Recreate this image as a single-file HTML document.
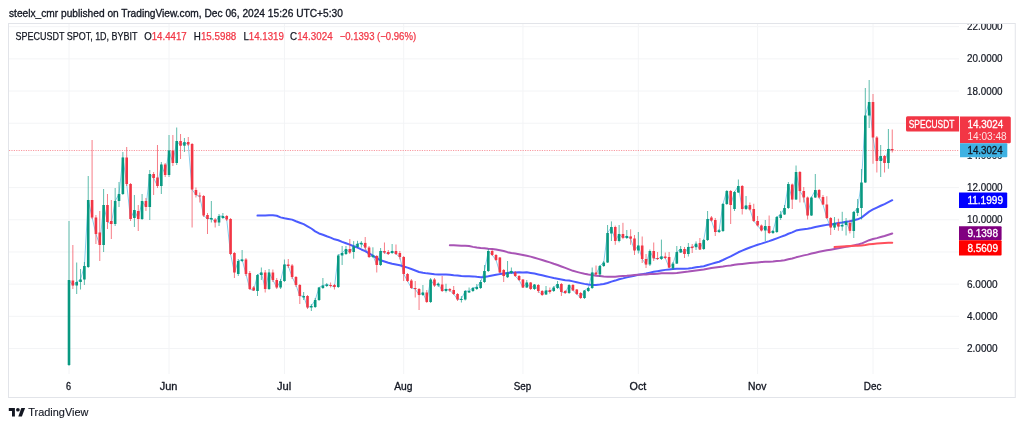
<!DOCTYPE html>
<html><head><meta charset="utf-8"><style>
html,body{margin:0;padding:0;background:#fff;width:1024px;height:428px;overflow:hidden;position:relative}
svg{filter:blur(0.3px)}
text{paint-order:stroke;stroke-width:0.3px;stroke-linejoin:round}
text.d{stroke:#131722}
text.w{stroke:#fff}
</style></head><body>
<svg width="1024" height="428" viewBox="0 0 1024 428" style="position:absolute;left:0;top:0">
<text x="9" y="16.7" font-family="Liberation Sans, sans-serif" font-size="10.9" fill="#131722" class="d" style="stroke-width:0.32px" textLength="333.8" lengthAdjust="spacingAndGlyphs">steelx_cmr published on TradingView.com, Dec 06, 2024 15:26 UTC+5:30</text>
<defs><clipPath id="pane"><rect x="9" y="24" width="950" height="350"/></clipPath><clipPath id="axis"><rect x="959" y="24" width="56" height="350"/></clipPath></defs>
<line x1="9" x2="959" y1="348.52" y2="348.52" stroke="#F3F4F6" stroke-width="1"/>
<line x1="9" x2="959" y1="316.34" y2="316.34" stroke="#F3F4F6" stroke-width="1"/>
<line x1="9" x2="959" y1="284.15" y2="284.15" stroke="#F3F4F6" stroke-width="1"/>
<line x1="9" x2="959" y1="251.97" y2="251.97" stroke="#F3F4F6" stroke-width="1"/>
<line x1="9" x2="959" y1="219.78" y2="219.78" stroke="#F3F4F6" stroke-width="1"/>
<line x1="9" x2="959" y1="187.60" y2="187.60" stroke="#F3F4F6" stroke-width="1"/>
<line x1="9" x2="959" y1="155.41" y2="155.41" stroke="#F3F4F6" stroke-width="1"/>
<line x1="9" x2="959" y1="123.23" y2="123.23" stroke="#F3F4F6" stroke-width="1"/>
<line x1="9" x2="959" y1="91.04" y2="91.04" stroke="#F3F4F6" stroke-width="1"/>
<line x1="9" x2="959" y1="58.86" y2="58.86" stroke="#F3F4F6" stroke-width="1"/>
<line x1="9" x2="959" y1="26.67" y2="26.67" stroke="#F3F4F6" stroke-width="1"/>
<line x1="69.00" x2="69.00" y1="24" y2="374" stroke="#F3F4F6" stroke-width="1"/>
<line x1="169.02" x2="169.02" y1="24" y2="374" stroke="#F3F4F6" stroke-width="1"/>
<line x1="284.43" x2="284.43" y1="24" y2="374" stroke="#F3F4F6" stroke-width="1"/>
<line x1="403.68" x2="403.68" y1="24" y2="374" stroke="#F3F4F6" stroke-width="1"/>
<line x1="522.93" x2="522.93" y1="24" y2="374" stroke="#F3F4F6" stroke-width="1"/>
<line x1="638.34" x2="638.34" y1="24" y2="374" stroke="#F3F4F6" stroke-width="1"/>
<line x1="757.60" x2="757.60" y1="24" y2="374" stroke="#F3F4F6" stroke-width="1"/>
<line x1="873.00" x2="873.00" y1="24" y2="374" stroke="#F3F4F6" stroke-width="1"/>
<rect x="8.5" y="23.5" width="1006.75" height="374" fill="none" stroke="#E2E4E9" stroke-width="1"/>
<line x1="9" x2="959" y1="150.5" y2="150.5" stroke="#F23645" stroke-width="1" stroke-dasharray="1.2,1.2" opacity="0.5"/>
<g clip-path="url(#pane)">
<polyline points="69.00,280.00 72.85,285.50 76.69,282.00 80.54,279.50 84.39,266.00 88.23,200.00 92.08,217.50 95.93,234.00 99.78,245.00 103.62,205.00 107.47,222.00 111.32,224.00 115.16,201.00 119.01,194.00 122.86,157.50 126.70,184.00 130.55,219.00 134.40,210.00 138.24,219.00 142.09,201.00 145.94,207.00 149.78,174.00 153.63,178.00 157.48,186.00 161.33,164.50 165.17,175.00 169.02,150.50 172.87,163.00 176.71,141.00 180.56,145.70 184.41,142.20 188.25,144.50 192.10,189.50 195.95,195.00 199.79,196.50 203.64,215.50 207.49,219.00 211.34,218.00 215.18,222.50 219.03,216.00 222.88,216.00 226.72,219.50 230.57,254.00 234.42,272.50 238.26,261.00 242.11,259.50 245.96,274.00 249.80,289.00 253.65,290.50 257.50,275.00 261.35,272.50 265.19,289.00 269.04,272.50 272.89,280.00 276.73,287.50 280.58,281.00 284.43,264.50 288.27,266.00 292.12,277.00 295.97,285.00 299.81,296.00 303.66,296.00 307.51,307.50 311.35,306.00 315.20,300.00 319.05,287.50 322.90,285.50 326.74,284.50 330.59,285.50 334.44,287.00 338.28,255.50 342.13,253.00 345.98,249.00 349.82,252.50 353.67,246.40 357.52,243.80 361.36,242.90 365.21,247.60 369.06,257.00 372.91,255.50 376.75,265.00 380.60,251.00 384.45,252.50 388.29,254.00 392.14,251.00 395.99,254.00 399.83,257.00 403.68,274.00 407.53,281.00 411.37,288.00 415.22,289.00 419.07,295.00 422.91,292.50 426.76,302.00 430.61,279.50 434.46,285.50 438.30,283.70 442.15,291.00 446.00,289.00 449.84,290.50 453.69,294.00 457.54,299.50 461.38,299.00 465.23,291.00 469.08,291.00 472.92,288.00 476.77,287.00 480.62,282.00 484.47,271.00 488.31,251.00 492.16,255.00 496.01,260.00 499.85,272.50 503.70,276.00 507.55,272.50 511.39,271.00 515.24,276.00 519.09,280.00 522.93,287.50 526.78,282.50 530.63,289.00 534.47,284.50 538.32,291.00 542.17,295.00 546.02,290.50 549.86,292.00 553.71,287.50 557.56,284.00 561.40,292.00 565.25,293.00 569.10,285.00 572.94,290.50 576.79,294.00 580.64,298.00 584.48,290.50 588.33,288.00 592.18,272.50 596.03,274.50 599.87,266.00 603.72,262.50 607.57,233.00 611.41,227.00 615.26,241.00 619.11,234.00 622.95,237.80 626.80,236.00 630.65,238.70 634.49,250.50 638.34,245.50 642.19,259.00 646.04,264.50 649.88,251.00 653.73,258.30 657.58,259.00 661.42,256.50 665.27,258.00 669.12,267.60 672.96,263.60 676.81,252.00 680.66,249.00 684.50,254.00 688.35,247.00 692.20,248.00 696.04,243.70 699.89,249.50 703.74,240.00 707.59,219.00 711.43,220.50 715.28,232.00 719.13,230.30 722.97,204.00 726.82,191.00 730.67,205.00 734.51,192.00 738.36,186.00 742.21,209.00 746.05,205.50 749.90,209.50 753.75,221.00 757.60,225.50 761.44,230.50 765.29,226.00 769.14,233.00 772.98,231.00 776.83,217.00 780.68,214.50 784.52,208.00 788.37,184.00 792.22,199.50 796.06,172.00 799.91,191.00 803.76,197.50 807.60,215.50 811.45,197.50 815.30,190.00 819.15,197.50 822.99,204.50 826.84,218.00 830.69,227.50 834.53,222.90 838.38,226.50 842.23,225.00 846.07,221.80 849.92,230.80 853.77,212.00 857.61,208.10 861.46,182.50 865.31,115.50 869.16,102.00 873.00,137.50 876.85,161.00 880.70,156.00 884.54,163.00 888.39,149.00 892.24,150.30" fill="none" stroke="#86CDEB" stroke-width="1"/>
<polyline points="257.50,215.61 261.35,215.46 265.19,215.53 269.04,215.34 272.89,215.35 276.73,215.78 280.58,217.40 284.43,218.34 288.27,218.98 292.12,219.62 295.97,221.22 299.81,222.70 303.66,224.14 307.51,226.27 311.35,228.51 315.20,231.36 319.05,233.43 322.90,234.76 326.74,236.25 330.59,237.58 334.44,239.30 338.28,240.27 342.13,241.85 345.98,243.27 349.82,244.60 353.67,246.24 357.52,247.61 361.36,249.46 365.21,251.15 369.06,253.47 372.91,255.67 376.75,258.12 380.60,260.25 384.45,261.51 388.29,262.69 392.14,263.78 395.99,264.55 399.83,265.31 403.68,266.43 407.53,267.60 411.37,269.04 415.22,270.50 419.07,272.01 422.91,272.78 426.76,273.37 430.61,273.74 434.46,274.26 438.30,274.46 442.15,274.50 446.00,274.47 449.84,274.78 453.69,275.21 457.54,275.42 461.38,275.95 465.23,276.17 469.08,276.24 472.92,276.38 476.77,276.83 480.62,277.15 484.47,277.03 488.31,276.35 492.16,275.53 496.01,274.81 499.85,274.11 503.70,273.51 507.55,272.96 511.39,272.63 515.24,272.44 519.09,272.35 522.93,272.39 526.78,272.30 530.63,272.97 534.47,273.60 538.32,274.44 542.17,275.29 546.02,276.17 549.86,277.13 553.71,278.03 557.56,278.75 561.40,279.45 565.25,280.20 569.10,280.60 572.94,281.39 576.79,282.22 580.64,283.10 584.48,283.89 588.33,284.57 592.18,284.88 596.03,284.89 599.87,284.59 603.72,284.08 607.57,282.96 611.41,281.60 615.26,280.57 619.11,279.21 622.95,278.38 626.80,277.39 630.65,276.49 634.49,275.68 638.34,274.81 642.19,274.18 646.04,273.59 649.88,272.62 653.73,271.81 657.58,271.17 661.42,270.48 665.27,269.88 669.12,269.49 672.96,269.12 676.81,268.74 680.66,268.70 684.50,268.68 688.35,268.42 692.20,267.93 696.04,267.28 699.89,266.82 703.74,266.20 707.59,265.06 711.43,263.87 715.28,262.76 719.13,261.72 722.97,260.02 726.82,258.15 730.67,256.43 734.51,254.37 738.36,252.28 742.21,250.62 746.05,248.98 749.90,247.49 753.75,246.07 757.60,244.72 761.44,243.63 765.29,242.34 769.14,241.12 772.98,239.78 776.83,238.31 780.68,236.84 784.52,235.55 788.37,233.74 792.22,232.41 796.06,230.60 799.91,229.76 803.76,229.17 807.60,228.66 811.45,227.93 815.30,226.97 819.15,226.20 822.99,225.52 826.84,224.87 830.69,224.51 834.53,223.79 838.38,223.03 842.23,222.51 846.07,221.78 849.92,221.21 853.77,220.32 857.61,219.33 861.46,217.62 865.31,214.66 869.16,211.66 873.00,209.43 876.85,207.57 880.70,205.75 884.54,204.05 888.39,202.16 892.24,200.17" fill="none" stroke="#4B5BFF" stroke-width="2" stroke-linejoin="round" stroke-linecap="round"/>
<polyline points="449.84,245.19 453.69,245.33 457.54,245.47 461.38,245.64 465.23,245.76 469.08,246.01 472.92,246.89 476.77,247.58 480.62,248.06 484.47,248.32 488.31,248.78 492.16,249.11 496.01,249.47 499.85,250.19 503.70,251.01 507.55,252.16 511.39,253.03 515.24,253.60 519.09,254.30 522.93,254.98 526.78,255.80 530.63,256.62 534.47,257.72 538.32,258.85 542.17,259.94 546.02,261.20 549.86,262.37 553.71,263.74 557.56,264.95 561.40,266.46 565.25,267.94 569.10,269.36 572.94,270.82 576.79,271.87 580.64,272.90 584.48,273.84 588.33,274.56 592.18,275.10 596.03,275.66 599.87,276.10 603.72,276.56 607.57,276.73 611.41,276.81 615.26,276.68 619.11,276.29 622.95,276.06 626.80,275.83 630.65,275.47 634.49,275.09 638.34,274.64 642.19,274.48 646.04,274.40 649.88,274.02 653.73,273.88 657.58,273.67 661.42,273.36 665.27,273.13 669.12,273.16 672.96,273.13 676.81,272.88 680.66,272.52 684.50,272.10 688.35,271.61 692.20,271.02 696.04,270.40 699.89,269.89 703.74,269.42 707.59,268.75 711.43,268.11 715.28,267.58 719.13,267.01 722.97,266.49 726.82,265.87 730.67,265.43 734.51,264.83 738.36,264.23 742.21,263.88 746.05,263.50 749.90,263.12 753.75,262.76 757.60,262.46 761.44,262.12 765.29,261.87 769.14,261.67 772.98,261.44 776.83,261.10 780.68,260.71 784.52,260.22 788.37,259.32 792.22,258.50 796.06,257.34 799.91,256.36 803.76,255.39 807.60,254.62 811.45,253.57 815.30,252.68 819.15,251.80 822.99,251.00 826.84,250.28 830.69,249.66 834.53,248.98 838.38,248.31 842.23,247.56 846.07,246.79 849.92,246.19 853.77,245.40 857.61,244.60 861.46,243.56 865.31,241.89 869.16,240.20 873.00,239.07 876.85,238.13 880.70,237.09 884.54,235.99 888.39,234.72 892.24,233.50" fill="none" stroke="#A854B5" stroke-width="2" stroke-linejoin="round" stroke-linecap="round"/>
<polyline points="834.53,247.09 838.38,246.82 842.23,246.52 846.07,246.22 849.92,245.97 853.77,245.70 857.61,245.74 861.46,245.57 865.31,244.98 869.16,244.26 873.00,243.92 876.85,243.62 880.70,243.28 884.54,243.09 888.39,242.86 892.24,242.83" fill="none" stroke="#FF4F5B" stroke-width="2" stroke-linejoin="round" stroke-linecap="round"/>
<line x1="69.00" x2="69.00" y1="221.00" y2="366.00" stroke="#089981" stroke-width="1" opacity="0.65"/>
<rect x="67.70" y="280.00" width="2.6" height="85.00" fill="#089981"/>
<line x1="72.85" x2="72.85" y1="245.00" y2="289.00" stroke="#F23645" stroke-width="1" opacity="0.65"/>
<rect x="71.55" y="280.50" width="2.6" height="5.00" fill="#F23645"/>
<line x1="76.69" x2="76.69" y1="262.50" y2="294.00" stroke="#089981" stroke-width="1" opacity="0.65"/>
<rect x="75.39" y="282.00" width="2.6" height="3.50" fill="#089981"/>
<line x1="80.54" x2="80.54" y1="269.00" y2="289.50" stroke="#089981" stroke-width="1" opacity="0.65"/>
<rect x="79.24" y="279.50" width="2.6" height="2.50" fill="#089981"/>
<line x1="84.39" x2="84.39" y1="262.00" y2="285.00" stroke="#089981" stroke-width="1" opacity="0.65"/>
<rect x="83.09" y="266.00" width="2.6" height="13.50" fill="#089981"/>
<line x1="88.23" x2="88.23" y1="176.00" y2="268.00" stroke="#089981" stroke-width="1" opacity="0.65"/>
<rect x="86.93" y="200.00" width="2.6" height="67.00" fill="#089981"/>
<line x1="92.08" x2="92.08" y1="140.00" y2="219.00" stroke="#F23645" stroke-width="1" opacity="0.65"/>
<rect x="90.78" y="200.00" width="2.6" height="17.50" fill="#F23645"/>
<line x1="95.93" x2="95.93" y1="215.00" y2="244.00" stroke="#F23645" stroke-width="1" opacity="0.65"/>
<rect x="94.63" y="217.50" width="2.6" height="16.50" fill="#F23645"/>
<line x1="99.78" x2="99.78" y1="211.00" y2="261.00" stroke="#F23645" stroke-width="1" opacity="0.65"/>
<rect x="98.48" y="232.50" width="2.6" height="12.50" fill="#F23645"/>
<line x1="103.62" x2="103.62" y1="189.00" y2="252.00" stroke="#089981" stroke-width="1" opacity="0.65"/>
<rect x="102.32" y="205.00" width="2.6" height="40.00" fill="#089981"/>
<line x1="107.47" x2="107.47" y1="194.00" y2="229.00" stroke="#F23645" stroke-width="1" opacity="0.65"/>
<rect x="106.17" y="205.00" width="2.6" height="17.00" fill="#F23645"/>
<line x1="111.32" x2="111.32" y1="200.00" y2="239.00" stroke="#F23645" stroke-width="1" opacity="0.65"/>
<rect x="110.02" y="221.00" width="2.6" height="3.00" fill="#F23645"/>
<line x1="115.16" x2="115.16" y1="188.00" y2="226.00" stroke="#089981" stroke-width="1" opacity="0.65"/>
<rect x="113.86" y="201.00" width="2.6" height="23.00" fill="#089981"/>
<line x1="119.01" x2="119.01" y1="182.00" y2="207.00" stroke="#089981" stroke-width="1" opacity="0.65"/>
<rect x="117.71" y="194.00" width="2.6" height="7.00" fill="#089981"/>
<line x1="122.86" x2="122.86" y1="152.00" y2="195.00" stroke="#089981" stroke-width="1" opacity="0.65"/>
<rect x="121.56" y="157.50" width="2.6" height="36.50" fill="#089981"/>
<line x1="126.70" x2="126.70" y1="147.00" y2="186.00" stroke="#F23645" stroke-width="1" opacity="0.65"/>
<rect x="125.40" y="157.50" width="2.6" height="26.50" fill="#F23645"/>
<line x1="130.55" x2="130.55" y1="183.00" y2="221.00" stroke="#F23645" stroke-width="1" opacity="0.65"/>
<rect x="129.25" y="184.00" width="2.6" height="35.00" fill="#F23645"/>
<line x1="134.40" x2="134.40" y1="195.00" y2="227.00" stroke="#089981" stroke-width="1" opacity="0.65"/>
<rect x="133.10" y="210.00" width="2.6" height="8.00" fill="#089981"/>
<line x1="138.24" x2="138.24" y1="205.00" y2="231.00" stroke="#F23645" stroke-width="1" opacity="0.65"/>
<rect x="136.94" y="211.00" width="2.6" height="8.00" fill="#F23645"/>
<line x1="142.09" x2="142.09" y1="194.00" y2="220.00" stroke="#089981" stroke-width="1" opacity="0.65"/>
<rect x="140.79" y="201.00" width="2.6" height="18.00" fill="#089981"/>
<line x1="145.94" x2="145.94" y1="198.00" y2="211.00" stroke="#F23645" stroke-width="1" opacity="0.65"/>
<rect x="144.64" y="201.00" width="2.6" height="6.00" fill="#F23645"/>
<line x1="149.78" x2="149.78" y1="170.00" y2="220.00" stroke="#089981" stroke-width="1" opacity="0.65"/>
<rect x="148.48" y="174.00" width="2.6" height="33.00" fill="#089981"/>
<line x1="153.63" x2="153.63" y1="172.00" y2="195.00" stroke="#F23645" stroke-width="1" opacity="0.65"/>
<rect x="152.33" y="174.00" width="2.6" height="4.00" fill="#F23645"/>
<line x1="157.48" x2="157.48" y1="145.00" y2="188.00" stroke="#F23645" stroke-width="1" opacity="0.65"/>
<rect x="156.18" y="177.50" width="2.6" height="8.50" fill="#F23645"/>
<line x1="161.33" x2="161.33" y1="162.00" y2="194.00" stroke="#089981" stroke-width="1" opacity="0.65"/>
<rect x="160.03" y="164.50" width="2.6" height="21.50" fill="#089981"/>
<line x1="165.17" x2="165.17" y1="163.00" y2="177.00" stroke="#F23645" stroke-width="1" opacity="0.65"/>
<rect x="163.87" y="164.50" width="2.6" height="10.50" fill="#F23645"/>
<line x1="169.02" x2="169.02" y1="135.00" y2="177.00" stroke="#089981" stroke-width="1" opacity="0.65"/>
<rect x="167.72" y="150.50" width="2.6" height="24.50" fill="#089981"/>
<line x1="172.87" x2="172.87" y1="135.00" y2="166.00" stroke="#F23645" stroke-width="1" opacity="0.65"/>
<rect x="171.57" y="150.50" width="2.6" height="12.50" fill="#F23645"/>
<line x1="176.71" x2="176.71" y1="127.50" y2="165.00" stroke="#089981" stroke-width="1" opacity="0.65"/>
<rect x="175.41" y="141.00" width="2.6" height="22.00" fill="#089981"/>
<line x1="180.56" x2="180.56" y1="134.00" y2="159.00" stroke="#F23645" stroke-width="1" opacity="0.65"/>
<rect x="179.26" y="141.00" width="2.6" height="4.70" fill="#F23645"/>
<line x1="184.41" x2="184.41" y1="138.00" y2="152.00" stroke="#089981" stroke-width="1" opacity="0.65"/>
<rect x="183.11" y="142.20" width="2.6" height="3.50" fill="#089981"/>
<line x1="188.25" x2="188.25" y1="137.00" y2="146.00" stroke="#F23645" stroke-width="1" opacity="0.65"/>
<rect x="186.95" y="142.00" width="2.6" height="2.50" fill="#F23645"/>
<line x1="192.10" x2="192.10" y1="143.00" y2="227.50" stroke="#F23645" stroke-width="1" opacity="0.65"/>
<rect x="190.80" y="144.00" width="2.6" height="45.50" fill="#F23645"/>
<line x1="195.95" x2="195.95" y1="187.50" y2="197.50" stroke="#F23645" stroke-width="1" opacity="0.65"/>
<rect x="194.65" y="190.00" width="2.6" height="5.00" fill="#F23645"/>
<line x1="199.79" x2="199.79" y1="192.50" y2="202.50" stroke="#F23645" stroke-width="1" opacity="0.65"/>
<rect x="198.49" y="195.50" width="2.6" height="1.00" fill="#F23645"/>
<line x1="203.64" x2="203.64" y1="195.00" y2="217.00" stroke="#F23645" stroke-width="1" opacity="0.65"/>
<rect x="202.34" y="196.00" width="2.6" height="19.50" fill="#F23645"/>
<line x1="207.49" x2="207.49" y1="213.00" y2="234.00" stroke="#F23645" stroke-width="1" opacity="0.65"/>
<rect x="206.19" y="215.00" width="2.6" height="4.00" fill="#F23645"/>
<line x1="211.34" x2="211.34" y1="201.00" y2="222.50" stroke="#089981" stroke-width="1" opacity="0.65"/>
<rect x="210.04" y="218.00" width="2.6" height="1.50" fill="#089981"/>
<line x1="215.18" x2="215.18" y1="218.00" y2="227.50" stroke="#F23645" stroke-width="1" opacity="0.65"/>
<rect x="213.88" y="219.50" width="2.6" height="3.00" fill="#F23645"/>
<line x1="219.03" x2="219.03" y1="214.00" y2="226.00" stroke="#089981" stroke-width="1" opacity="0.65"/>
<rect x="217.73" y="216.00" width="2.6" height="6.50" fill="#089981"/>
<line x1="222.88" x2="222.88" y1="213.00" y2="219.00" stroke="#089981" stroke-width="1" opacity="0.65"/>
<rect x="221.58" y="216.00" width="2.6" height="2.00" fill="#089981"/>
<line x1="226.72" x2="226.72" y1="215.00" y2="221.00" stroke="#F23645" stroke-width="1" opacity="0.65"/>
<rect x="225.42" y="216.00" width="2.6" height="3.50" fill="#F23645"/>
<line x1="230.57" x2="230.57" y1="218.00" y2="255.00" stroke="#F23645" stroke-width="1" opacity="0.65"/>
<rect x="229.27" y="219.00" width="2.6" height="35.00" fill="#F23645"/>
<line x1="234.42" x2="234.42" y1="252.00" y2="278.00" stroke="#F23645" stroke-width="1" opacity="0.65"/>
<rect x="233.12" y="253.00" width="2.6" height="19.50" fill="#F23645"/>
<line x1="238.26" x2="238.26" y1="259.00" y2="276.00" stroke="#089981" stroke-width="1" opacity="0.65"/>
<rect x="236.96" y="261.00" width="2.6" height="13.00" fill="#089981"/>
<line x1="242.11" x2="242.11" y1="250.00" y2="262.00" stroke="#089981" stroke-width="1" opacity="0.65"/>
<rect x="240.81" y="259.50" width="2.6" height="1.50" fill="#089981"/>
<line x1="245.96" x2="245.96" y1="258.00" y2="276.00" stroke="#F23645" stroke-width="1" opacity="0.65"/>
<rect x="244.66" y="259.50" width="2.6" height="14.50" fill="#F23645"/>
<line x1="249.80" x2="249.80" y1="271.00" y2="290.00" stroke="#F23645" stroke-width="1" opacity="0.65"/>
<rect x="248.50" y="273.00" width="2.6" height="16.00" fill="#F23645"/>
<line x1="253.65" x2="253.65" y1="286.00" y2="291.00" stroke="#F23645" stroke-width="1" opacity="0.65"/>
<rect x="252.35" y="287.50" width="2.6" height="3.00" fill="#F23645"/>
<line x1="257.50" x2="257.50" y1="274.00" y2="296.00" stroke="#089981" stroke-width="1" opacity="0.65"/>
<rect x="256.20" y="275.00" width="2.6" height="16.00" fill="#089981"/>
<line x1="261.35" x2="261.35" y1="267.50" y2="280.00" stroke="#089981" stroke-width="1" opacity="0.65"/>
<rect x="260.05" y="272.50" width="2.6" height="2.50" fill="#089981"/>
<line x1="265.19" x2="265.19" y1="270.00" y2="292.50" stroke="#F23645" stroke-width="1" opacity="0.65"/>
<rect x="263.89" y="272.50" width="2.6" height="16.50" fill="#F23645"/>
<line x1="269.04" x2="269.04" y1="269.00" y2="290.00" stroke="#089981" stroke-width="1" opacity="0.65"/>
<rect x="267.74" y="272.50" width="2.6" height="16.50" fill="#089981"/>
<line x1="272.89" x2="272.89" y1="269.50" y2="282.00" stroke="#F23645" stroke-width="1" opacity="0.65"/>
<rect x="271.59" y="272.50" width="2.6" height="7.50" fill="#F23645"/>
<line x1="276.73" x2="276.73" y1="278.00" y2="289.00" stroke="#F23645" stroke-width="1" opacity="0.65"/>
<rect x="275.43" y="280.00" width="2.6" height="7.50" fill="#F23645"/>
<line x1="280.58" x2="280.58" y1="279.00" y2="289.00" stroke="#089981" stroke-width="1" opacity="0.65"/>
<rect x="279.28" y="281.00" width="2.6" height="6.50" fill="#089981"/>
<line x1="284.43" x2="284.43" y1="259.50" y2="282.00" stroke="#089981" stroke-width="1" opacity="0.65"/>
<rect x="283.13" y="264.50" width="2.6" height="16.50" fill="#089981"/>
<line x1="288.27" x2="288.27" y1="259.00" y2="268.00" stroke="#F23645" stroke-width="1" opacity="0.65"/>
<rect x="286.97" y="264.50" width="2.6" height="1.50" fill="#F23645"/>
<line x1="292.12" x2="292.12" y1="264.00" y2="279.00" stroke="#F23645" stroke-width="1" opacity="0.65"/>
<rect x="290.82" y="265.50" width="2.6" height="11.50" fill="#F23645"/>
<line x1="295.97" x2="295.97" y1="276.00" y2="287.00" stroke="#F23645" stroke-width="1" opacity="0.65"/>
<rect x="294.67" y="277.00" width="2.6" height="8.00" fill="#F23645"/>
<line x1="299.81" x2="299.81" y1="284.00" y2="304.00" stroke="#F23645" stroke-width="1" opacity="0.65"/>
<rect x="298.51" y="285.00" width="2.6" height="11.00" fill="#F23645"/>
<line x1="303.66" x2="303.66" y1="292.00" y2="300.00" stroke="#089981" stroke-width="1" opacity="0.65"/>
<rect x="302.36" y="296.00" width="2.6" height="1.50" fill="#089981"/>
<line x1="307.51" x2="307.51" y1="295.00" y2="309.00" stroke="#F23645" stroke-width="1" opacity="0.65"/>
<rect x="306.21" y="296.00" width="2.6" height="11.50" fill="#F23645"/>
<line x1="311.35" x2="311.35" y1="304.00" y2="311.00" stroke="#089981" stroke-width="1" opacity="0.65"/>
<rect x="310.05" y="306.00" width="2.6" height="1.50" fill="#089981"/>
<line x1="315.20" x2="315.20" y1="298.00" y2="308.00" stroke="#089981" stroke-width="1" opacity="0.65"/>
<rect x="313.90" y="300.00" width="2.6" height="7.00" fill="#089981"/>
<line x1="319.05" x2="319.05" y1="287.00" y2="301.00" stroke="#089981" stroke-width="1" opacity="0.65"/>
<rect x="317.75" y="287.50" width="2.6" height="12.50" fill="#089981"/>
<line x1="322.90" x2="322.90" y1="278.00" y2="289.00" stroke="#089981" stroke-width="1" opacity="0.65"/>
<rect x="321.60" y="285.50" width="2.6" height="2.50" fill="#089981"/>
<line x1="326.74" x2="326.74" y1="283.00" y2="287.00" stroke="#089981" stroke-width="1" opacity="0.65"/>
<rect x="325.44" y="284.50" width="2.6" height="1.50" fill="#089981"/>
<line x1="330.59" x2="330.59" y1="282.50" y2="287.50" stroke="#F23645" stroke-width="1" opacity="0.65"/>
<rect x="329.29" y="285.00" width="2.6" height="1.00" fill="#F23645"/>
<line x1="334.44" x2="334.44" y1="284.00" y2="289.50" stroke="#F23645" stroke-width="1" opacity="0.65"/>
<rect x="333.14" y="285.00" width="2.6" height="2.00" fill="#F23645"/>
<line x1="338.28" x2="338.28" y1="254.00" y2="288.00" stroke="#089981" stroke-width="1" opacity="0.65"/>
<rect x="336.98" y="255.50" width="2.6" height="31.50" fill="#089981"/>
<line x1="342.13" x2="342.13" y1="246.00" y2="265.00" stroke="#089981" stroke-width="1" opacity="0.65"/>
<rect x="340.83" y="253.00" width="2.6" height="2.50" fill="#089981"/>
<line x1="345.98" x2="345.98" y1="246.00" y2="255.00" stroke="#089981" stroke-width="1" opacity="0.65"/>
<rect x="344.68" y="249.00" width="2.6" height="5.00" fill="#089981"/>
<line x1="349.82" x2="349.82" y1="239.00" y2="254.00" stroke="#F23645" stroke-width="1" opacity="0.65"/>
<rect x="348.52" y="249.00" width="2.6" height="3.50" fill="#F23645"/>
<line x1="353.67" x2="353.67" y1="241.10" y2="258.70" stroke="#089981" stroke-width="1" opacity="0.65"/>
<rect x="352.37" y="246.40" width="2.6" height="5.60" fill="#089981"/>
<line x1="357.52" x2="357.52" y1="240.80" y2="248.00" stroke="#089981" stroke-width="1" opacity="0.65"/>
<rect x="356.22" y="243.80" width="2.6" height="3.20" fill="#089981"/>
<line x1="361.36" x2="361.36" y1="241.10" y2="247.60" stroke="#089981" stroke-width="1" opacity="0.65"/>
<rect x="360.06" y="242.90" width="2.6" height="1.50" fill="#089981"/>
<line x1="365.21" x2="365.21" y1="237.00" y2="250.50" stroke="#F23645" stroke-width="1" opacity="0.65"/>
<rect x="363.91" y="242.90" width="2.6" height="4.70" fill="#F23645"/>
<line x1="369.06" x2="369.06" y1="246.00" y2="258.00" stroke="#F23645" stroke-width="1" opacity="0.65"/>
<rect x="367.76" y="247.50" width="2.6" height="9.50" fill="#F23645"/>
<line x1="372.91" x2="372.91" y1="247.30" y2="258.00" stroke="#089981" stroke-width="1" opacity="0.65"/>
<rect x="371.61" y="255.50" width="2.6" height="1.50" fill="#089981"/>
<line x1="376.75" x2="376.75" y1="255.00" y2="272.50" stroke="#F23645" stroke-width="1" opacity="0.65"/>
<rect x="375.45" y="256.00" width="2.6" height="9.00" fill="#F23645"/>
<line x1="380.60" x2="380.60" y1="248.00" y2="266.00" stroke="#089981" stroke-width="1" opacity="0.65"/>
<rect x="379.30" y="251.00" width="2.6" height="14.00" fill="#089981"/>
<line x1="384.45" x2="384.45" y1="242.50" y2="254.00" stroke="#F23645" stroke-width="1" opacity="0.65"/>
<rect x="383.15" y="251.00" width="2.6" height="1.50" fill="#F23645"/>
<line x1="388.29" x2="388.29" y1="250.00" y2="255.00" stroke="#F23645" stroke-width="1" opacity="0.65"/>
<rect x="386.99" y="252.00" width="2.6" height="2.00" fill="#F23645"/>
<line x1="392.14" x2="392.14" y1="244.00" y2="254.00" stroke="#089981" stroke-width="1" opacity="0.65"/>
<rect x="390.84" y="251.00" width="2.6" height="2.00" fill="#089981"/>
<line x1="395.99" x2="395.99" y1="244.50" y2="255.00" stroke="#F23645" stroke-width="1" opacity="0.65"/>
<rect x="394.69" y="251.00" width="2.6" height="3.00" fill="#F23645"/>
<line x1="399.83" x2="399.83" y1="251.00" y2="259.50" stroke="#F23645" stroke-width="1" opacity="0.65"/>
<rect x="398.53" y="253.00" width="2.6" height="4.00" fill="#F23645"/>
<line x1="403.68" x2="403.68" y1="256.00" y2="281.00" stroke="#F23645" stroke-width="1" opacity="0.65"/>
<rect x="402.38" y="257.00" width="2.6" height="17.00" fill="#F23645"/>
<line x1="407.53" x2="407.53" y1="273.00" y2="282.00" stroke="#F23645" stroke-width="1" opacity="0.65"/>
<rect x="406.23" y="274.00" width="2.6" height="7.00" fill="#F23645"/>
<line x1="411.37" x2="411.37" y1="279.00" y2="289.00" stroke="#F23645" stroke-width="1" opacity="0.65"/>
<rect x="410.07" y="280.50" width="2.6" height="7.50" fill="#F23645"/>
<line x1="415.22" x2="415.22" y1="281.00" y2="297.50" stroke="#F23645" stroke-width="1" opacity="0.65"/>
<rect x="413.92" y="288.00" width="2.6" height="1.00" fill="#F23645"/>
<line x1="419.07" x2="419.07" y1="288.00" y2="310.00" stroke="#F23645" stroke-width="1" opacity="0.65"/>
<rect x="417.77" y="289.00" width="2.6" height="6.00" fill="#F23645"/>
<line x1="422.91" x2="422.91" y1="285.00" y2="296.00" stroke="#089981" stroke-width="1" opacity="0.65"/>
<rect x="421.61" y="292.50" width="2.6" height="2.50" fill="#089981"/>
<line x1="426.76" x2="426.76" y1="290.00" y2="303.00" stroke="#F23645" stroke-width="1" opacity="0.65"/>
<rect x="425.46" y="292.50" width="2.6" height="9.50" fill="#F23645"/>
<line x1="430.61" x2="430.61" y1="278.00" y2="303.00" stroke="#089981" stroke-width="1" opacity="0.65"/>
<rect x="429.31" y="279.50" width="2.6" height="22.50" fill="#089981"/>
<line x1="434.46" x2="434.46" y1="278.00" y2="287.00" stroke="#F23645" stroke-width="1" opacity="0.65"/>
<rect x="433.16" y="279.50" width="2.6" height="6.00" fill="#F23645"/>
<line x1="438.30" x2="438.30" y1="282.50" y2="287.00" stroke="#089981" stroke-width="1" opacity="0.65"/>
<rect x="437.00" y="283.70" width="2.6" height="1.70" fill="#089981"/>
<line x1="442.15" x2="442.15" y1="276.00" y2="292.00" stroke="#F23645" stroke-width="1" opacity="0.65"/>
<rect x="440.85" y="284.50" width="2.6" height="6.50" fill="#F23645"/>
<line x1="446.00" x2="446.00" y1="283.75" y2="292.50" stroke="#089981" stroke-width="1" opacity="0.65"/>
<rect x="444.70" y="289.00" width="2.6" height="2.00" fill="#089981"/>
<line x1="449.84" x2="449.84" y1="288.00" y2="292.00" stroke="#F23645" stroke-width="1" opacity="0.65"/>
<rect x="448.54" y="289.00" width="2.6" height="1.50" fill="#F23645"/>
<line x1="453.69" x2="453.69" y1="286.00" y2="295.00" stroke="#F23645" stroke-width="1" opacity="0.65"/>
<rect x="452.39" y="290.00" width="2.6" height="4.00" fill="#F23645"/>
<line x1="457.54" x2="457.54" y1="293.00" y2="301.00" stroke="#F23645" stroke-width="1" opacity="0.65"/>
<rect x="456.24" y="294.00" width="2.6" height="5.50" fill="#F23645"/>
<line x1="461.38" x2="461.38" y1="296.00" y2="302.50" stroke="#089981" stroke-width="1" opacity="0.65"/>
<rect x="460.08" y="299.00" width="2.6" height="1.00" fill="#089981"/>
<line x1="465.23" x2="465.23" y1="290.00" y2="300.50" stroke="#089981" stroke-width="1" opacity="0.65"/>
<rect x="463.93" y="291.00" width="2.6" height="8.50" fill="#089981"/>
<line x1="469.08" x2="469.08" y1="287.50" y2="293.00" stroke="#089981" stroke-width="1" opacity="0.65"/>
<rect x="467.78" y="291.00" width="2.6" height="1.50" fill="#089981"/>
<line x1="472.92" x2="472.92" y1="287.00" y2="292.00" stroke="#089981" stroke-width="1" opacity="0.65"/>
<rect x="471.62" y="288.00" width="2.6" height="3.00" fill="#089981"/>
<line x1="476.77" x2="476.77" y1="284.00" y2="290.00" stroke="#089981" stroke-width="1" opacity="0.65"/>
<rect x="475.47" y="287.00" width="2.6" height="2.00" fill="#089981"/>
<line x1="480.62" x2="480.62" y1="280.00" y2="289.00" stroke="#089981" stroke-width="1" opacity="0.65"/>
<rect x="479.32" y="282.00" width="2.6" height="6.00" fill="#089981"/>
<line x1="484.47" x2="484.47" y1="265.00" y2="283.00" stroke="#089981" stroke-width="1" opacity="0.65"/>
<rect x="483.17" y="271.00" width="2.6" height="11.00" fill="#089981"/>
<line x1="488.31" x2="488.31" y1="249.00" y2="272.00" stroke="#089981" stroke-width="1" opacity="0.65"/>
<rect x="487.01" y="251.00" width="2.6" height="20.00" fill="#089981"/>
<line x1="492.16" x2="492.16" y1="249.50" y2="256.00" stroke="#F23645" stroke-width="1" opacity="0.65"/>
<rect x="490.86" y="251.00" width="2.6" height="4.00" fill="#F23645"/>
<line x1="496.01" x2="496.01" y1="254.00" y2="261.00" stroke="#F23645" stroke-width="1" opacity="0.65"/>
<rect x="494.71" y="255.00" width="2.6" height="5.00" fill="#F23645"/>
<line x1="499.85" x2="499.85" y1="257.00" y2="273.00" stroke="#F23645" stroke-width="1" opacity="0.65"/>
<rect x="498.55" y="257.50" width="2.6" height="15.00" fill="#F23645"/>
<line x1="503.70" x2="503.70" y1="269.00" y2="282.00" stroke="#F23645" stroke-width="1" opacity="0.65"/>
<rect x="502.40" y="270.00" width="2.6" height="6.00" fill="#F23645"/>
<line x1="507.55" x2="507.55" y1="261.00" y2="278.00" stroke="#089981" stroke-width="1" opacity="0.65"/>
<rect x="506.25" y="272.50" width="2.6" height="4.70" fill="#089981"/>
<line x1="511.39" x2="511.39" y1="267.50" y2="274.00" stroke="#089981" stroke-width="1" opacity="0.65"/>
<rect x="510.09" y="271.00" width="2.6" height="2.00" fill="#089981"/>
<line x1="515.24" x2="515.24" y1="271.00" y2="277.00" stroke="#F23645" stroke-width="1" opacity="0.65"/>
<rect x="513.94" y="272.50" width="2.6" height="3.50" fill="#F23645"/>
<line x1="519.09" x2="519.09" y1="275.00" y2="281.00" stroke="#F23645" stroke-width="1" opacity="0.65"/>
<rect x="517.79" y="276.00" width="2.6" height="4.00" fill="#F23645"/>
<line x1="522.93" x2="522.93" y1="279.00" y2="288.00" stroke="#F23645" stroke-width="1" opacity="0.65"/>
<rect x="521.63" y="279.50" width="2.6" height="8.00" fill="#F23645"/>
<line x1="526.78" x2="526.78" y1="280.00" y2="288.00" stroke="#089981" stroke-width="1" opacity="0.65"/>
<rect x="525.48" y="282.50" width="2.6" height="5.00" fill="#089981"/>
<line x1="530.63" x2="530.63" y1="282.00" y2="290.00" stroke="#F23645" stroke-width="1" opacity="0.65"/>
<rect x="529.33" y="282.50" width="2.6" height="6.50" fill="#F23645"/>
<line x1="534.47" x2="534.47" y1="284.00" y2="290.00" stroke="#089981" stroke-width="1" opacity="0.65"/>
<rect x="533.17" y="284.50" width="2.6" height="4.50" fill="#089981"/>
<line x1="538.32" x2="538.32" y1="284.00" y2="293.00" stroke="#F23645" stroke-width="1" opacity="0.65"/>
<rect x="537.02" y="285.00" width="2.6" height="6.00" fill="#F23645"/>
<line x1="542.17" x2="542.17" y1="290.00" y2="296.00" stroke="#F23645" stroke-width="1" opacity="0.65"/>
<rect x="540.87" y="291.00" width="2.6" height="4.00" fill="#F23645"/>
<line x1="546.02" x2="546.02" y1="286.00" y2="295.00" stroke="#089981" stroke-width="1" opacity="0.65"/>
<rect x="544.72" y="290.50" width="2.6" height="4.00" fill="#089981"/>
<line x1="549.86" x2="549.86" y1="287.50" y2="293.75" stroke="#F23645" stroke-width="1" opacity="0.65"/>
<rect x="548.56" y="290.00" width="2.6" height="2.00" fill="#F23645"/>
<line x1="553.71" x2="553.71" y1="286.00" y2="292.00" stroke="#089981" stroke-width="1" opacity="0.65"/>
<rect x="552.41" y="287.50" width="2.6" height="3.50" fill="#089981"/>
<line x1="557.56" x2="557.56" y1="281.00" y2="289.00" stroke="#089981" stroke-width="1" opacity="0.65"/>
<rect x="556.26" y="284.00" width="2.6" height="4.00" fill="#089981"/>
<line x1="561.40" x2="561.40" y1="283.00" y2="296.00" stroke="#F23645" stroke-width="1" opacity="0.65"/>
<rect x="560.10" y="284.00" width="2.6" height="8.00" fill="#F23645"/>
<line x1="565.25" x2="565.25" y1="290.00" y2="294.00" stroke="#F23645" stroke-width="1" opacity="0.65"/>
<rect x="563.95" y="291.00" width="2.6" height="2.00" fill="#F23645"/>
<line x1="569.10" x2="569.10" y1="284.00" y2="294.00" stroke="#089981" stroke-width="1" opacity="0.65"/>
<rect x="567.80" y="285.00" width="2.6" height="8.00" fill="#089981"/>
<line x1="572.94" x2="572.94" y1="284.00" y2="291.00" stroke="#F23645" stroke-width="1" opacity="0.65"/>
<rect x="571.64" y="285.00" width="2.6" height="5.50" fill="#F23645"/>
<line x1="576.79" x2="576.79" y1="289.00" y2="295.00" stroke="#F23645" stroke-width="1" opacity="0.65"/>
<rect x="575.49" y="289.50" width="2.6" height="4.50" fill="#F23645"/>
<line x1="580.64" x2="580.64" y1="292.00" y2="299.00" stroke="#F23645" stroke-width="1" opacity="0.65"/>
<rect x="579.34" y="293.00" width="2.6" height="5.00" fill="#F23645"/>
<line x1="584.48" x2="584.48" y1="290.00" y2="299.00" stroke="#089981" stroke-width="1" opacity="0.65"/>
<rect x="583.18" y="290.50" width="2.6" height="7.50" fill="#089981"/>
<line x1="588.33" x2="588.33" y1="287.00" y2="292.00" stroke="#089981" stroke-width="1" opacity="0.65"/>
<rect x="587.03" y="288.00" width="2.6" height="3.00" fill="#089981"/>
<line x1="592.18" x2="592.18" y1="267.50" y2="289.00" stroke="#089981" stroke-width="1" opacity="0.65"/>
<rect x="590.88" y="272.50" width="2.6" height="15.50" fill="#089981"/>
<line x1="596.03" x2="596.03" y1="265.50" y2="275.00" stroke="#F23645" stroke-width="1" opacity="0.65"/>
<rect x="594.73" y="272.50" width="2.6" height="2.00" fill="#F23645"/>
<line x1="599.87" x2="599.87" y1="265.00" y2="277.00" stroke="#089981" stroke-width="1" opacity="0.65"/>
<rect x="598.57" y="266.00" width="2.6" height="8.50" fill="#089981"/>
<line x1="603.72" x2="603.72" y1="261.00" y2="267.00" stroke="#089981" stroke-width="1" opacity="0.65"/>
<rect x="602.42" y="262.50" width="2.6" height="3.50" fill="#089981"/>
<line x1="607.57" x2="607.57" y1="225.00" y2="263.00" stroke="#089981" stroke-width="1" opacity="0.65"/>
<rect x="606.27" y="233.00" width="2.6" height="29.50" fill="#089981"/>
<line x1="611.41" x2="611.41" y1="221.40" y2="241.00" stroke="#089981" stroke-width="1" opacity="0.65"/>
<rect x="610.11" y="227.00" width="2.6" height="6.50" fill="#089981"/>
<line x1="615.26" x2="615.26" y1="225.60" y2="244.80" stroke="#F23645" stroke-width="1" opacity="0.65"/>
<rect x="613.96" y="227.00" width="2.6" height="14.00" fill="#F23645"/>
<line x1="619.11" x2="619.11" y1="225.00" y2="242.40" stroke="#089981" stroke-width="1" opacity="0.65"/>
<rect x="617.81" y="234.00" width="2.6" height="7.00" fill="#089981"/>
<line x1="622.95" x2="622.95" y1="222.80" y2="239.20" stroke="#F23645" stroke-width="1" opacity="0.65"/>
<rect x="621.65" y="234.00" width="2.6" height="3.80" fill="#F23645"/>
<line x1="626.80" x2="626.80" y1="230.00" y2="239.00" stroke="#089981" stroke-width="1" opacity="0.65"/>
<rect x="625.50" y="236.00" width="2.6" height="2.00" fill="#089981"/>
<line x1="630.65" x2="630.65" y1="229.30" y2="244.80" stroke="#F23645" stroke-width="1" opacity="0.65"/>
<rect x="629.35" y="236.40" width="2.6" height="2.30" fill="#F23645"/>
<line x1="634.49" x2="634.49" y1="235.00" y2="255.00" stroke="#F23645" stroke-width="1" opacity="0.65"/>
<rect x="633.19" y="238.50" width="2.6" height="12.00" fill="#F23645"/>
<line x1="638.34" x2="638.34" y1="232.00" y2="253.50" stroke="#089981" stroke-width="1" opacity="0.65"/>
<rect x="637.04" y="245.50" width="2.6" height="5.00" fill="#089981"/>
<line x1="642.19" x2="642.19" y1="236.50" y2="263.00" stroke="#F23645" stroke-width="1" opacity="0.65"/>
<rect x="640.89" y="245.50" width="2.6" height="13.50" fill="#F23645"/>
<line x1="646.04" x2="646.04" y1="254.00" y2="268.00" stroke="#F23645" stroke-width="1" opacity="0.65"/>
<rect x="644.74" y="259.00" width="2.6" height="5.50" fill="#F23645"/>
<line x1="649.88" x2="649.88" y1="249.50" y2="266.00" stroke="#089981" stroke-width="1" opacity="0.65"/>
<rect x="648.58" y="251.00" width="2.6" height="13.50" fill="#089981"/>
<line x1="653.73" x2="653.73" y1="242.50" y2="261.00" stroke="#F23645" stroke-width="1" opacity="0.65"/>
<rect x="652.43" y="251.00" width="2.6" height="7.30" fill="#F23645"/>
<line x1="657.58" x2="657.58" y1="252.00" y2="260.00" stroke="#F23645" stroke-width="1" opacity="0.65"/>
<rect x="656.28" y="258.00" width="2.6" height="1.00" fill="#F23645"/>
<line x1="661.42" x2="661.42" y1="239.60" y2="260.00" stroke="#089981" stroke-width="1" opacity="0.65"/>
<rect x="660.12" y="256.50" width="2.6" height="2.50" fill="#089981"/>
<line x1="665.27" x2="665.27" y1="252.50" y2="259.00" stroke="#F23645" stroke-width="1" opacity="0.65"/>
<rect x="663.97" y="256.50" width="2.6" height="1.50" fill="#F23645"/>
<line x1="669.12" x2="669.12" y1="252.00" y2="268.00" stroke="#F23645" stroke-width="1" opacity="0.65"/>
<rect x="667.82" y="257.00" width="2.6" height="10.60" fill="#F23645"/>
<line x1="672.96" x2="672.96" y1="262.00" y2="270.00" stroke="#089981" stroke-width="1" opacity="0.65"/>
<rect x="671.66" y="263.60" width="2.6" height="4.60" fill="#089981"/>
<line x1="676.81" x2="676.81" y1="246.00" y2="264.00" stroke="#089981" stroke-width="1" opacity="0.65"/>
<rect x="675.51" y="252.00" width="2.6" height="11.60" fill="#089981"/>
<line x1="680.66" x2="680.66" y1="246.00" y2="253.00" stroke="#089981" stroke-width="1" opacity="0.65"/>
<rect x="679.36" y="249.00" width="2.6" height="3.50" fill="#089981"/>
<line x1="684.50" x2="684.50" y1="247.00" y2="258.00" stroke="#F23645" stroke-width="1" opacity="0.65"/>
<rect x="683.20" y="249.00" width="2.6" height="5.00" fill="#F23645"/>
<line x1="688.35" x2="688.35" y1="243.00" y2="256.50" stroke="#089981" stroke-width="1" opacity="0.65"/>
<rect x="687.05" y="247.00" width="2.6" height="7.00" fill="#089981"/>
<line x1="692.20" x2="692.20" y1="244.00" y2="253.00" stroke="#F23645" stroke-width="1" opacity="0.65"/>
<rect x="690.90" y="246.60" width="2.6" height="1.40" fill="#F23645"/>
<line x1="696.04" x2="696.04" y1="241.40" y2="250.00" stroke="#089981" stroke-width="1" opacity="0.65"/>
<rect x="694.74" y="243.70" width="2.6" height="3.50" fill="#089981"/>
<line x1="699.89" x2="699.89" y1="238.00" y2="250.00" stroke="#F23645" stroke-width="1" opacity="0.65"/>
<rect x="698.59" y="243.00" width="2.6" height="6.50" fill="#F23645"/>
<line x1="703.74" x2="703.74" y1="239.00" y2="250.00" stroke="#089981" stroke-width="1" opacity="0.65"/>
<rect x="702.44" y="240.00" width="2.6" height="9.00" fill="#089981"/>
<line x1="707.59" x2="707.59" y1="211.00" y2="241.00" stroke="#089981" stroke-width="1" opacity="0.65"/>
<rect x="706.29" y="219.00" width="2.6" height="21.00" fill="#089981"/>
<line x1="711.43" x2="711.43" y1="216.00" y2="221.50" stroke="#F23645" stroke-width="1" opacity="0.65"/>
<rect x="710.13" y="217.50" width="2.6" height="3.00" fill="#F23645"/>
<line x1="715.28" x2="715.28" y1="218.00" y2="236.00" stroke="#F23645" stroke-width="1" opacity="0.65"/>
<rect x="713.98" y="220.00" width="2.6" height="12.00" fill="#F23645"/>
<line x1="719.13" x2="719.13" y1="229.00" y2="233.00" stroke="#089981" stroke-width="1" opacity="0.65"/>
<rect x="717.83" y="230.30" width="2.6" height="1.70" fill="#089981"/>
<line x1="722.97" x2="722.97" y1="203.00" y2="232.00" stroke="#089981" stroke-width="1" opacity="0.65"/>
<rect x="721.67" y="204.00" width="2.6" height="27.00" fill="#089981"/>
<line x1="726.82" x2="726.82" y1="190.00" y2="205.00" stroke="#089981" stroke-width="1" opacity="0.65"/>
<rect x="725.52" y="191.00" width="2.6" height="13.00" fill="#089981"/>
<line x1="730.67" x2="730.67" y1="190.00" y2="224.00" stroke="#F23645" stroke-width="1" opacity="0.65"/>
<rect x="729.37" y="191.00" width="2.6" height="14.00" fill="#F23645"/>
<line x1="734.51" x2="734.51" y1="191.00" y2="211.00" stroke="#089981" stroke-width="1" opacity="0.65"/>
<rect x="733.21" y="192.00" width="2.6" height="17.00" fill="#089981"/>
<line x1="738.36" x2="738.36" y1="179.50" y2="193.00" stroke="#089981" stroke-width="1" opacity="0.65"/>
<rect x="737.06" y="186.00" width="2.6" height="6.50" fill="#089981"/>
<line x1="742.21" x2="742.21" y1="185.00" y2="214.50" stroke="#F23645" stroke-width="1" opacity="0.65"/>
<rect x="740.91" y="186.00" width="2.6" height="23.00" fill="#F23645"/>
<line x1="746.05" x2="746.05" y1="196.00" y2="210.00" stroke="#089981" stroke-width="1" opacity="0.65"/>
<rect x="744.75" y="205.50" width="2.6" height="3.50" fill="#089981"/>
<line x1="749.90" x2="749.90" y1="202.50" y2="210.50" stroke="#F23645" stroke-width="1" opacity="0.65"/>
<rect x="748.60" y="205.00" width="2.6" height="4.50" fill="#F23645"/>
<line x1="753.75" x2="753.75" y1="203.75" y2="222.00" stroke="#F23645" stroke-width="1" opacity="0.65"/>
<rect x="752.45" y="209.00" width="2.6" height="12.00" fill="#F23645"/>
<line x1="757.60" x2="757.60" y1="216.00" y2="226.50" stroke="#F23645" stroke-width="1" opacity="0.65"/>
<rect x="756.30" y="221.00" width="2.6" height="4.50" fill="#F23645"/>
<line x1="761.44" x2="761.44" y1="224.50" y2="231.50" stroke="#F23645" stroke-width="1" opacity="0.65"/>
<rect x="760.14" y="225.50" width="2.6" height="5.00" fill="#F23645"/>
<line x1="765.29" x2="765.29" y1="220.00" y2="241.00" stroke="#089981" stroke-width="1" opacity="0.65"/>
<rect x="763.99" y="226.00" width="2.6" height="4.50" fill="#089981"/>
<line x1="769.14" x2="769.14" y1="215.50" y2="234.00" stroke="#F23645" stroke-width="1" opacity="0.65"/>
<rect x="767.84" y="226.00" width="2.6" height="7.00" fill="#F23645"/>
<line x1="772.98" x2="772.98" y1="230.00" y2="234.00" stroke="#089981" stroke-width="1" opacity="0.65"/>
<rect x="771.68" y="231.00" width="2.6" height="2.00" fill="#089981"/>
<line x1="776.83" x2="776.83" y1="216.00" y2="233.00" stroke="#089981" stroke-width="1" opacity="0.65"/>
<rect x="775.53" y="217.00" width="2.6" height="15.00" fill="#089981"/>
<line x1="780.68" x2="780.68" y1="211.00" y2="220.00" stroke="#089981" stroke-width="1" opacity="0.65"/>
<rect x="779.38" y="214.50" width="2.6" height="3.50" fill="#089981"/>
<line x1="784.52" x2="784.52" y1="205.00" y2="215.00" stroke="#089981" stroke-width="1" opacity="0.65"/>
<rect x="783.22" y="208.00" width="2.6" height="6.50" fill="#089981"/>
<line x1="788.37" x2="788.37" y1="182.00" y2="209.00" stroke="#089981" stroke-width="1" opacity="0.65"/>
<rect x="787.07" y="184.00" width="2.6" height="24.00" fill="#089981"/>
<line x1="792.22" x2="792.22" y1="183.50" y2="209.00" stroke="#F23645" stroke-width="1" opacity="0.65"/>
<rect x="790.92" y="184.50" width="2.6" height="15.00" fill="#F23645"/>
<line x1="796.06" x2="796.06" y1="165.50" y2="200.00" stroke="#089981" stroke-width="1" opacity="0.65"/>
<rect x="794.76" y="172.00" width="2.6" height="27.50" fill="#089981"/>
<line x1="799.91" x2="799.91" y1="171.00" y2="202.50" stroke="#F23645" stroke-width="1" opacity="0.65"/>
<rect x="798.61" y="172.00" width="2.6" height="19.00" fill="#F23645"/>
<line x1="803.76" x2="803.76" y1="187.00" y2="202.50" stroke="#F23645" stroke-width="1" opacity="0.65"/>
<rect x="802.46" y="191.00" width="2.6" height="6.50" fill="#F23645"/>
<line x1="807.60" x2="807.60" y1="196.50" y2="219.50" stroke="#F23645" stroke-width="1" opacity="0.65"/>
<rect x="806.30" y="197.50" width="2.6" height="18.00" fill="#F23645"/>
<line x1="811.45" x2="811.45" y1="196.50" y2="216.00" stroke="#089981" stroke-width="1" opacity="0.65"/>
<rect x="810.15" y="197.50" width="2.6" height="18.00" fill="#089981"/>
<line x1="815.30" x2="815.30" y1="174.00" y2="198.00" stroke="#089981" stroke-width="1" opacity="0.65"/>
<rect x="814.00" y="190.00" width="2.6" height="7.50" fill="#089981"/>
<line x1="819.15" x2="819.15" y1="189.00" y2="198.50" stroke="#F23645" stroke-width="1" opacity="0.65"/>
<rect x="817.85" y="190.00" width="2.6" height="7.50" fill="#F23645"/>
<line x1="822.99" x2="822.99" y1="195.00" y2="205.00" stroke="#F23645" stroke-width="1" opacity="0.65"/>
<rect x="821.69" y="197.00" width="2.6" height="7.50" fill="#F23645"/>
<line x1="826.84" x2="826.84" y1="196.25" y2="219.00" stroke="#F23645" stroke-width="1" opacity="0.65"/>
<rect x="825.54" y="204.50" width="2.6" height="13.50" fill="#F23645"/>
<line x1="830.69" x2="830.69" y1="217.00" y2="235.00" stroke="#F23645" stroke-width="1" opacity="0.65"/>
<rect x="829.39" y="218.00" width="2.6" height="9.50" fill="#F23645"/>
<line x1="834.53" x2="834.53" y1="217.00" y2="230.00" stroke="#089981" stroke-width="1" opacity="0.65"/>
<rect x="833.23" y="222.90" width="2.6" height="4.70" fill="#089981"/>
<line x1="838.38" x2="838.38" y1="218.70" y2="230.80" stroke="#F23645" stroke-width="1" opacity="0.65"/>
<rect x="837.08" y="222.90" width="2.6" height="3.60" fill="#F23645"/>
<line x1="842.23" x2="842.23" y1="211.80" y2="230.80" stroke="#089981" stroke-width="1" opacity="0.65"/>
<rect x="840.93" y="225.00" width="2.6" height="1.50" fill="#089981"/>
<line x1="846.07" x2="846.07" y1="218.00" y2="235.50" stroke="#089981" stroke-width="1" opacity="0.65"/>
<rect x="844.77" y="221.80" width="2.6" height="3.20" fill="#089981"/>
<line x1="849.92" x2="849.92" y1="219.70" y2="233.40" stroke="#F23645" stroke-width="1" opacity="0.65"/>
<rect x="848.62" y="222.90" width="2.6" height="7.90" fill="#F23645"/>
<line x1="853.77" x2="853.77" y1="211.00" y2="238.00" stroke="#089981" stroke-width="1" opacity="0.65"/>
<rect x="852.47" y="212.00" width="2.6" height="19.00" fill="#089981"/>
<line x1="857.61" x2="857.61" y1="199.00" y2="216.00" stroke="#089981" stroke-width="1" opacity="0.65"/>
<rect x="856.31" y="208.10" width="2.6" height="4.80" fill="#089981"/>
<line x1="861.46" x2="861.46" y1="169.00" y2="219.50" stroke="#089981" stroke-width="1" opacity="0.65"/>
<rect x="860.16" y="182.50" width="2.6" height="25.50" fill="#089981"/>
<line x1="865.31" x2="865.31" y1="88.00" y2="183.00" stroke="#089981" stroke-width="1" opacity="0.65"/>
<rect x="864.01" y="115.50" width="2.6" height="67.00" fill="#089981"/>
<line x1="869.16" x2="869.16" y1="80.00" y2="128.00" stroke="#089981" stroke-width="1" opacity="0.65"/>
<rect x="867.86" y="102.00" width="2.6" height="13.50" fill="#089981"/>
<line x1="873.00" x2="873.00" y1="94.00" y2="163.75" stroke="#F23645" stroke-width="1" opacity="0.65"/>
<rect x="871.70" y="102.00" width="2.6" height="35.50" fill="#F23645"/>
<line x1="876.85" x2="876.85" y1="136.00" y2="172.50" stroke="#F23645" stroke-width="1" opacity="0.65"/>
<rect x="875.55" y="137.50" width="2.6" height="23.50" fill="#F23645"/>
<line x1="880.70" x2="880.70" y1="145.00" y2="177.00" stroke="#089981" stroke-width="1" opacity="0.65"/>
<rect x="879.40" y="156.00" width="2.6" height="5.00" fill="#089981"/>
<line x1="884.54" x2="884.54" y1="155.00" y2="172.50" stroke="#F23645" stroke-width="1" opacity="0.65"/>
<rect x="883.24" y="156.00" width="2.6" height="7.00" fill="#F23645"/>
<line x1="888.39" x2="888.39" y1="129.00" y2="168.75" stroke="#089981" stroke-width="1" opacity="0.65"/>
<rect x="887.09" y="149.00" width="2.6" height="14.00" fill="#089981"/>
<line x1="892.24" x2="892.24" y1="129.50" y2="152.50" stroke="#F23645" stroke-width="1" opacity="0.65"/>
<rect x="890.94" y="149.00" width="2.6" height="1.30" fill="#F23645"/>
</g>
<text x="967.0" y="30.17" font-family="Liberation Sans, sans-serif" font-size="10.7" fill="#131722" class="d" style="stroke-width:0.22px" textLength="35.6" lengthAdjust="spacingAndGlyphs" clip-path="url(#axis)">22.0000</text>
<text x="967.0" y="62.36" font-family="Liberation Sans, sans-serif" font-size="10.7" fill="#131722" class="d" style="stroke-width:0.22px" textLength="35.6" lengthAdjust="spacingAndGlyphs" clip-path="url(#axis)">20.0000</text>
<text x="967.0" y="94.54" font-family="Liberation Sans, sans-serif" font-size="10.7" fill="#131722" class="d" style="stroke-width:0.22px" textLength="35.6" lengthAdjust="spacingAndGlyphs" clip-path="url(#axis)">18.0000</text>
<text x="967.0" y="158.91" font-family="Liberation Sans, sans-serif" font-size="10.7" fill="#131722" class="d" style="stroke-width:0.22px" textLength="35.6" lengthAdjust="spacingAndGlyphs" clip-path="url(#axis)">14.0000</text>
<text x="967.0" y="191.10" font-family="Liberation Sans, sans-serif" font-size="10.7" fill="#131722" class="d" style="stroke-width:0.22px" textLength="35.6" lengthAdjust="spacingAndGlyphs" clip-path="url(#axis)">12.0000</text>
<text x="967.0" y="223.28" font-family="Liberation Sans, sans-serif" font-size="10.7" fill="#131722" class="d" style="stroke-width:0.22px" textLength="35.6" lengthAdjust="spacingAndGlyphs" clip-path="url(#axis)">10.0000</text>
<text x="967.0" y="287.65" font-family="Liberation Sans, sans-serif" font-size="10.7" fill="#131722" class="d" style="stroke-width:0.22px" textLength="30.6" lengthAdjust="spacingAndGlyphs" clip-path="url(#axis)">6.0000</text>
<text x="967.0" y="319.84" font-family="Liberation Sans, sans-serif" font-size="10.7" fill="#131722" class="d" style="stroke-width:0.22px" textLength="30.6" lengthAdjust="spacingAndGlyphs" clip-path="url(#axis)">4.0000</text>
<text x="967.0" y="352.02" font-family="Liberation Sans, sans-serif" font-size="10.7" fill="#131722" class="d" style="stroke-width:0.22px" textLength="30.6" lengthAdjust="spacingAndGlyphs" clip-path="url(#axis)">2.0000</text>
<text x="66.05" y="389.9" font-family="Liberation Sans, sans-serif" font-size="10.4" fill="#131722" class="d" style="stroke-width:0.32px" textLength="5.1" lengthAdjust="spacingAndGlyphs">6</text>
<text x="159.77" y="389.9" font-family="Liberation Sans, sans-serif" font-size="10.4" fill="#131722" class="d" style="stroke-width:0.32px" textLength="17.7" lengthAdjust="spacingAndGlyphs">Jun</text>
<text x="276.93" y="389.9" font-family="Liberation Sans, sans-serif" font-size="10.4" fill="#131722" class="d" style="stroke-width:0.32px" textLength="14.2" lengthAdjust="spacingAndGlyphs">Jul</text>
<text x="394.13" y="389.9" font-family="Liberation Sans, sans-serif" font-size="10.4" fill="#131722" class="d" style="stroke-width:0.32px" textLength="18.3" lengthAdjust="spacingAndGlyphs">Aug</text>
<text x="513.78" y="389.9" font-family="Liberation Sans, sans-serif" font-size="10.4" fill="#131722" class="d" style="stroke-width:0.32px" textLength="17.5" lengthAdjust="spacingAndGlyphs">Sep</text>
<text x="629.59" y="389.9" font-family="Liberation Sans, sans-serif" font-size="10.4" fill="#131722" class="d" style="stroke-width:0.32px" textLength="16.7" lengthAdjust="spacingAndGlyphs">Oct</text>
<text x="748.00" y="389.9" font-family="Liberation Sans, sans-serif" font-size="10.4" fill="#131722" class="d" style="stroke-width:0.32px" textLength="18.4" lengthAdjust="spacingAndGlyphs">Nov</text>
<text x="863.80" y="389.9" font-family="Liberation Sans, sans-serif" font-size="10.4" fill="#131722" class="d" style="stroke-width:0.32px" textLength="17.6" lengthAdjust="spacingAndGlyphs">Dec</text>
<path d="M959.1,116.3V131.4H907.5Q906,131.4 906,129.9V117.8Q906,116.3 907.5,116.3Z" fill="#F23645"/>
<text x="908.8" y="127.9" font-family="Liberation Sans, sans-serif" font-size="10.6" fill="#fff" stroke="#fff" stroke-width="0.3" textLength="45.5" lengthAdjust="spacingAndGlyphs">SPECUSDT</text>
<path d="M960,116.4H1009.3Q1010.8,116.4 1010.8,117.9V141.8Q1010.8,143.3 1009.3,143.3H960Z" fill="#F23645"/>
<text x="967.5" y="127.6" font-family="Liberation Sans, sans-serif" font-size="10.2" fill="#fff" class="w" textLength="35.7" lengthAdjust="spacingAndGlyphs">14.3024</text>
<text x="967.5" y="140.0" font-family="Liberation Sans, sans-serif" font-size="10.2" fill="#fde2e4" textLength="39.2" lengthAdjust="spacingAndGlyphs">14:03:48</text>
<path d="M960,143.3H1006.3Q1007.3,143.3 1007.3,144.3V156.3Q1007.3,157.3 1006.3,157.3H960Z" fill="#3FB2E3"/>
<text x="967.5" y="154" font-family="Liberation Sans, sans-serif" font-size="10.2" fill="#131722" class="d" textLength="35.2" lengthAdjust="spacingAndGlyphs">14.3024</text>
<path d="M959,192.6H1006.2Q1007.2,192.6 1007.2,193.6V207.0Q1007.2,208.0 1006.2,208.0H959Z" fill="#0000FF"/>
<text x="967.4" y="204" font-family="Liberation Sans, sans-serif" font-size="10.2" fill="#fff" class="w" textLength="35.6" lengthAdjust="spacingAndGlyphs">11.1999</text>
<path d="M959,226.2H1000.6Q1001.6,226.2 1001.6,227.2V239.2Q1001.6,240.2 1000.6,240.2H959Z" fill="#800080"/>
<text x="967.4" y="237.3" font-family="Liberation Sans, sans-serif" font-size="10.2" fill="#fff" class="w" textLength="30.6" lengthAdjust="spacingAndGlyphs">9.1398</text>
<path d="M959,240.2H1000.6Q1001.6,240.2 1001.6,241.2V254.6Q1001.6,255.6 1000.6,255.6H959Z" fill="#FF0000"/>
<text x="967.4" y="251.8" font-family="Liberation Sans, sans-serif" font-size="10.2" fill="#fff" class="w" textLength="30.6" lengthAdjust="spacingAndGlyphs">8.5609</text>
<text x="15.6" y="39.8" font-family="Liberation Sans, sans-serif" font-size="10.4" fill="#131722" stroke="#131722" style="stroke-width:0.25px" textLength="121.9" lengthAdjust="spacingAndGlyphs">SPECUSDT SPOT, 1D, BYBIT</text>
<text x="144.2" y="39.8" font-family="Liberation Sans, sans-serif" font-size="10.4" fill="#131722" class="d" style="stroke-width:0.25px" textLength="42.5" lengthAdjust="spacingAndGlyphs">O<tspan fill="#F23645" stroke="#F23645">14.4417</tspan></text>
<text x="193.8" y="39.8" font-family="Liberation Sans, sans-serif" font-size="10.4" fill="#131722" class="d" style="stroke-width:0.25px" textLength="42.5" lengthAdjust="spacingAndGlyphs">H<tspan fill="#F23645" stroke="#F23645">15.5988</tspan></text>
<text x="243.4" y="39.8" font-family="Liberation Sans, sans-serif" font-size="10.4" fill="#131722" class="d" style="stroke-width:0.25px" textLength="40.5" lengthAdjust="spacingAndGlyphs">L<tspan fill="#F23645" stroke="#F23645">14.1319</tspan></text>
<text x="290.1" y="39.8" font-family="Liberation Sans, sans-serif" font-size="10.4" fill="#131722" class="d" style="stroke-width:0.25px" textLength="42.5" lengthAdjust="spacingAndGlyphs">C<tspan fill="#F23645" stroke="#F23645">14.3024</tspan></text>
<text x="339.7" y="39.8" font-family="Liberation Sans, sans-serif" font-size="10.4" fill="#F23645" stroke="#F23645" style="stroke-width:0.25px" textLength="76.4" lengthAdjust="spacingAndGlyphs">−0.1393 (−0.96%)</text>
<g fill="#131722" class="d"><path d="M8.8,408H14.9V416.5H12V410.9H8.8Z"/><path d="M21.3,408H25.1L21.9,416.5H18.3Z"/><circle cx="17.9" cy="409.75" r="1.85"/></g>
<text x="28.3" y="416.3" font-family="Liberation Sans, sans-serif" font-size="10" fill="#131722" class="d" style="stroke-width:0.12px" textLength="60.1" lengthAdjust="spacingAndGlyphs">TradingView</text>
</svg>
</body></html>
